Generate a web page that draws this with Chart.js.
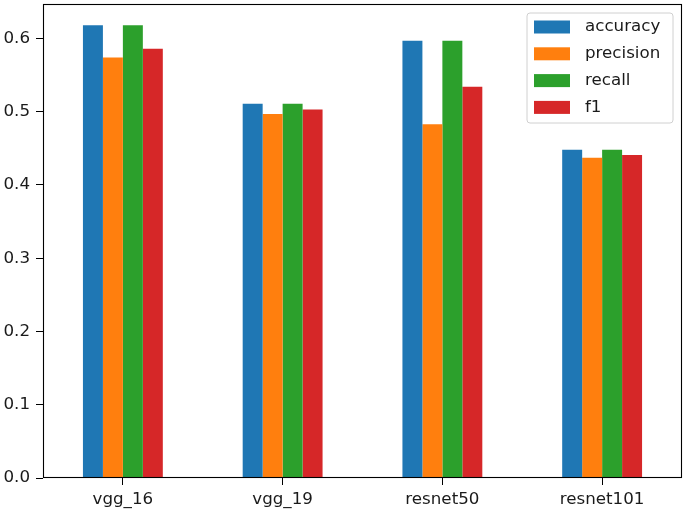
<!DOCTYPE html>
<html>
<head>
<meta charset="utf-8">
<script src="https://cdn.jsdelivr.net/npm/chart.js@4/dist/chart.umd.min.js"></script>
<style>
html,body{margin:0;padding:0;background:#fff;}
#wrap{width:685px;height:512px;position:relative;}
</style>
</head>
<body>
<div id="wrap"><canvas id="c" width="685" height="512"></canvas></div>
<script>
const categories = ["vgg_16", "vgg_19", "resnet50", "resnet101"];
const accuracy  = [0.618, 0.511, 0.597, 0.448];
const precision = [0.574, 0.497, 0.483, 0.437];
const recall    = [0.618, 0.511, 0.597, 0.448];
const f1        = [0.586, 0.503, 0.534, 0.441];
const seriesNames = ["accuracy", "precision", "recall", "f1"];
const colors = ["#1f77b4", "#ff7f0e", "#2ca02c", "#d62728"];
const yTicks = [0.0, 0.1, 0.2, 0.3, 0.4, 0.5, 0.6];

const FONT = "'DejaVu Sans', sans-serif";
const FS = 16.7;

const frameAndLegend = {
  id: 'frameAndLegend',
  afterDraw(chart) {
    const ctx = chart.ctx;
    const a = chart.chartArea;
    ctx.save();
    // axes frame
    ctx.strokeStyle = '#000';
    ctx.lineWidth = 1.1;
    ctx.strokeRect(Math.round(a.left) + 0.5, Math.round(a.top) + 0.5,
                   Math.round(a.right - a.left) - 1, Math.round(a.bottom - a.top) - 1);
    // legend
    const bx = a.right - 155, by = a.top + 9, bw = 146, bh = 110, r = 3;
    ctx.beginPath();
    ctx.moveTo(bx + r, by);
    ctx.lineTo(bx + bw - r, by);
    ctx.arcTo(bx + bw, by, bx + bw, by + r, r);
    ctx.lineTo(bx + bw, by + bh - r);
    ctx.arcTo(bx + bw, by + bh, bx + bw - r, by + bh, r);
    ctx.lineTo(bx + r, by + bh);
    ctx.arcTo(bx, by + bh, bx, by + bh - r, r);
    ctx.lineTo(bx, by + r);
    ctx.arcTo(bx, by, bx + r, by, r);
    ctx.closePath();
    ctx.fillStyle = 'rgba(255,255,255,0.8)';
    ctx.fill();
    ctx.strokeStyle = '#d0d0d0';
    ctx.lineWidth = 1;
    ctx.stroke();
    ctx.font = FS + 'px ' + FONT;
    ctx.textBaseline = 'middle';
    ctx.textAlign = 'left';
    chart.data.datasets.forEach((ds, i) => {
      const cy = by + 14 + i * 26.8;
      ctx.fillStyle = ds.backgroundColor;
      ctx.fillRect(bx + 7, cy - 6.5, 36, 13);
      ctx.fillStyle = '#1a1a1a';
      ctx.fillText(ds.label, bx + 58, cy);
    });
    ctx.restore();
  }
};

const datasets = [accuracy, precision, recall, f1].map((vals, i) => ({
  label: seriesNames[i],
  data: vals,
  backgroundColor: colors[i],
  borderWidth: 0,
  categoryPercentage: 0.5,
  barPercentage: 1.0
}));

new Chart(document.getElementById('c'), {
  type: 'bar',
  data: { labels: categories, datasets },
  options: {
    responsive: false,
    animation: false,
    devicePixelRatio: 1,
    layout: { padding: { left: 0, right: 3, top: 4, bottom: 0 } },
    plugins: { legend: { display: false }, tooltip: { enabled: false } },
    scales: {
      x: {
        grid: { display: true, drawOnChartArea: false, drawTicks: true, tickLength: 7, color: '#000', offset: false },
        border: { display: false },
        ticks: { color: '#1a1a1a', font: { family: FONT, size: FS }, padding: 5, maxRotation: 0 },
        afterFit(scale) { scale.height = 34; scale.paddingLeft = 0; scale.paddingRight = 0; }
      },
      y: {
        min: 0,
        max: 0.647,
        afterBuildTicks(scale) { scale.ticks = yTicks.map(v => ({ value: v })); },
        grid: { display: true, drawOnChartArea: false, drawTicks: true, tickLength: 7, color: '#000' },
        border: { display: false },
        ticks: { color: '#1a1a1a', font: { family: FONT, size: FS }, padding: 6,
                 callback: v => v.toFixed(1) },
        afterFit(scale) { scale.width = 43; scale.paddingTop = 0; scale.paddingBottom = 0; }
      }
    }
  },
  plugins: [frameAndLegend]
});
</script>
</body>
</html>
